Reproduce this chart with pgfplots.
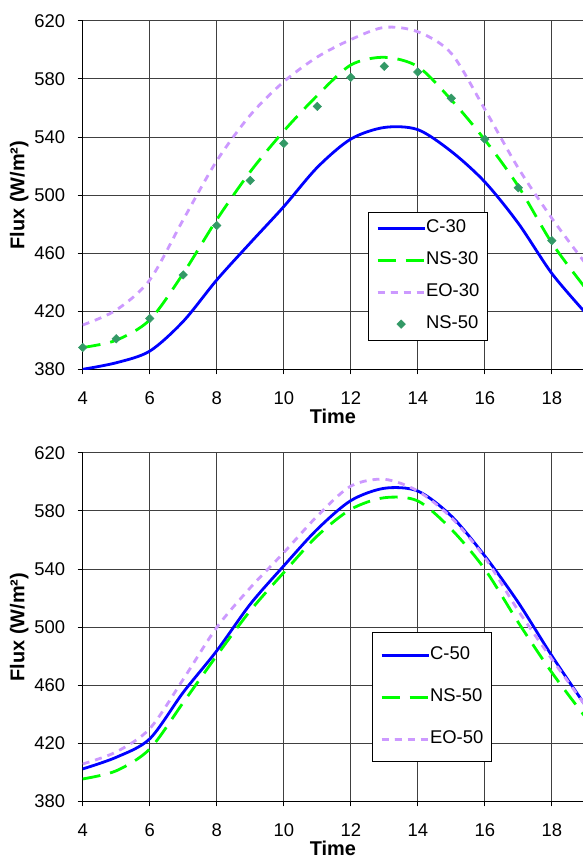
\documentclass[border=0pt]{standalone}
\usepackage{fontspec}
\setmainfont{Liberation Sans}
\usepackage{pgfplots}
\pgfplotsset{compat=1.18}
\usepackage{pgfplotstable}

\definecolor{cblue}{RGB}{0,0,255}
\definecolor{nsgreen}{RGB}{0,255,0}
\definecolor{eopurple}{RGB}{204,153,255}
\definecolor{nsmark}{RGB}{51,153,102}

% hourly values
\pgfplotstableread{
t   C      NS     EO     M
4   380    395    410.5  395
5   384.5  400    420.8  401
6   392.5  414    441.5  415
7   413    446    483    445
8   441.5  483    523.5  479
9   467    516    555    510
10  492    544    578    535.5
11  519    568.5  595    561
12  538.5  589.5  607    581
13  546.5  594.8  615.4  588.6
14  545    588.4  612.4  584.7
15  530    565.5  597.5  566.6
16  509    538    559    538.4
17  480.5  506    518.5  505
18  446    467    484    468.6
19  419    436    453    437
}\topdata

\pgfplotstableread{
t   C      NS     EO
4   402.3  395.4  405.7
5   410.3  401    414
6   423    416    430
7   455    448    464
8   483.6  480.3  499.7
9   515.7  511.2  527
10  542.1  537.5  551.2
11  567.3  562.7  576.4
12  587    581    597
13  595.5  589    601.7
14  593.6  586.8  593.6
15  576.4  567.3  575.3
16  548.9  539.8  547.8
17  516.8  503.1  511.2
18  480.2  468.7  477.9
19  446    438    446
}\botdata

\pgfplotsset{
  fluxaxis/.style={
    scale only axis, width=500.3bp, height=348.6bp,
    xmin=4, xmax=18.93, ymin=380, ymax=620,
    xtick={4,6,...,18}, ytick={380,420,...,620},
    axis x line*=bottom, axis y line*=left,
    axis line style={-, line width=1bp, black},
    grid=major, grid style={line width=0.8bp, black!75},
    tick align=outside, major tick length=5bp,
    tick style={black, line width=0.8bp},
    font=\fontsize{18.5}{22}\selectfont,
    xticklabel style={yshift=-14bp},
    yticklabel style={xshift=-9bp},
    /pgf/number format/assume math mode=true,
    xlabel={Time}, ylabel={Flux (W/m²)},
    label style={font=\fontsize{20}{24}\selectfont\bfseries},
    xlabel style={yshift=3bp},
    ylabel style={yshift=-1bp},
    legend cell align=left,
    legend style={font=\fontsize{18.5}{22}\selectfont, draw=black, line width=0.8bp,
      anchor=north west, inner xsep=8bp,
      nodes={inner sep=0pt, text height=13bp, text depth=4bp},
      /tikz/every even column/.append style={column sep=5bp}},
    legend image code/.code={\draw[mark repeat=2,mark phase=2,##1] plot coordinates {(0bp,0bp) (23.5bp,0bp) (47bp,0bp)};},
  },
  cline/.style={cblue, line width=2.8bp, smooth, mark=none},
  nsline/.style={nsgreen, line width=2.8bp, dash pattern=on 18bp off 10bp, smooth, mark=none},
  eoline/.style={eopurple, line width=2.8bp, dash pattern=on 7bp off 6bp, smooth, mark=none},
}

\begin{document}
\begin{tikzpicture}
\path[use as bounding box] (-82.7bp,20.7bp) rectangle (500.3bp,-840.3bp);

\begin{axis}[fluxaxis, at={(0,0)}, anchor=north west,
  legend style={at={(0.570,0.452)}, inner ysep=7.5bp, row sep=15bp}]
\addplot[cline] table[x=t, y=C] {\topdata};
\addplot[nsline] table[x=t, y=NS] {\topdata};
\addplot[eoline] table[x=t, y=EO] {\topdata};
\addplot[only marks, mark=square*, mark size=3bp,
  mark options={rotate=45, fill=nsmark, draw=nsmark, solid, line width=0.5bp}]
  table[x=t, y=M] {\topdata};
\legend{C-30, NS-30, EO-30, NS-50}
\end{axis}

\begin{axis}[fluxaxis, at={(0,-432bp)}, anchor=north west,
  legend style={at={(0.578,0.485)}, inner ysep=14bp, row sep=25bp}]
\addplot[cline] table[x=t, y=C] {\botdata};
\addplot[nsline] table[x=t, y=NS] {\botdata};
\addplot[eoline] table[x=t, y=EO] {\botdata};
\legend{C-50, NS-50, EO-50}
\end{axis}
\end{tikzpicture}
\end{document}
